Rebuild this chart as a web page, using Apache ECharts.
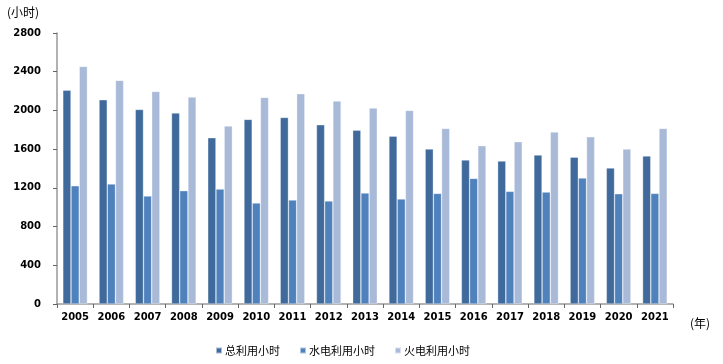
<!DOCTYPE html>
<html><head><meta charset="utf-8">
<script src="https://cdn.jsdelivr.net/npm/echarts@6/dist/echarts.min.js"></script>
<style>html,body{margin:0;padding:0;background:#fff}#c{width:723px;height:364px}</style>
</head><body><div id="c"></div>
<script>
const years = ['2005','2006','2007','2008','2009','2010','2011','2012','2013','2014','2015','2016','2017','2018','2019','2020','2021'];
const totalHours = [2210,2110,2010,1973,1718,1908,1928,1852,1797,1735,1601,1488,1477,1539,1518,1405,1529];
const hydroHours = [1222,1240,1116,1171,1188,1043,1074,1064,1147,1085,1143,1298,1164,1157,1302,1139,1143];
const thermalHours = [2455,2311,2197,2138,1839,2135,2173,2097,2025,2001,1815,1636,1677,1777,1728,1601,1815];
const yTicks = [0,400,800,1200,1600,2000,2400,2800];
const seriesNames = ['总利用小时','水电利用小时','火电利用小时'];
const colors = ['#3F6A9B','#4F81BD','#A9BAD8'];
const cjk = '"Noto Sans CJK SC", sans-serif';
const chart = echarts.init(document.getElementById('c'));
const mk = (name, data, color) => ({
  name, type:'bar', data, barGap:'0%', barCategoryGap:'32%',
  itemStyle:{color, borderColor:'rgba(255,255,255,0.55)', borderWidth:0.6},
  emphasis:{disabled:true}
});
chart.setOption({
  animation:false,
  color:colors,
  grid:{left:57,right:50,top:33,bottom:60},
  graphic:[
    {type:'text',left:7,top:6,style:{text:'(小时)',font:'12px '+cjk,fill:'#000'}},
    {type:'text',left:690,top:317,style:{text:'(年)',font:'12px '+cjk,fill:'#000'}}
  ],
  legend:{
    bottom:3,left:210,itemWidth:6,itemHeight:6,itemGap:19,icon:'rect',
    textStyle:{fontFamily:cjk,fontSize:11,color:'#000',padding:[0,0,0,-2]},
    data:seriesNames
  },
  xAxis:{
    type:'category',data:years,
    axisLine:{lineStyle:{color:'#999',width:1.5}},
    axisTick:{show:true,length:4,lineStyle:{color:'#666'}},
    axisLabel:{color:'#000',fontSize:10,fontWeight:'bold',fontFamily:'"DejaVu Sans"',margin:8}
  },
  yAxis:{
    type:'value',min:yTicks[0],max:yTicks[yTicks.length-1],interval:400,
    axisLine:{show:true,lineStyle:{color:'#999',width:1.5}},
    axisTick:{show:true,length:4,lineStyle:{color:'#666'}},
    splitLine:{show:false},
    axisLabel:{color:'#000',fontSize:10,fontWeight:'bold',fontFamily:'"DejaVu Sans"',margin:16,formatter:v=>String(v)}
  },
  series:[
    mk(seriesNames[0],totalHours,colors[0]),
    mk(seriesNames[1],hydroHours,colors[1]),
    mk(seriesNames[2],thermalHours,colors[2])
  ]
});
</script></body></html>
